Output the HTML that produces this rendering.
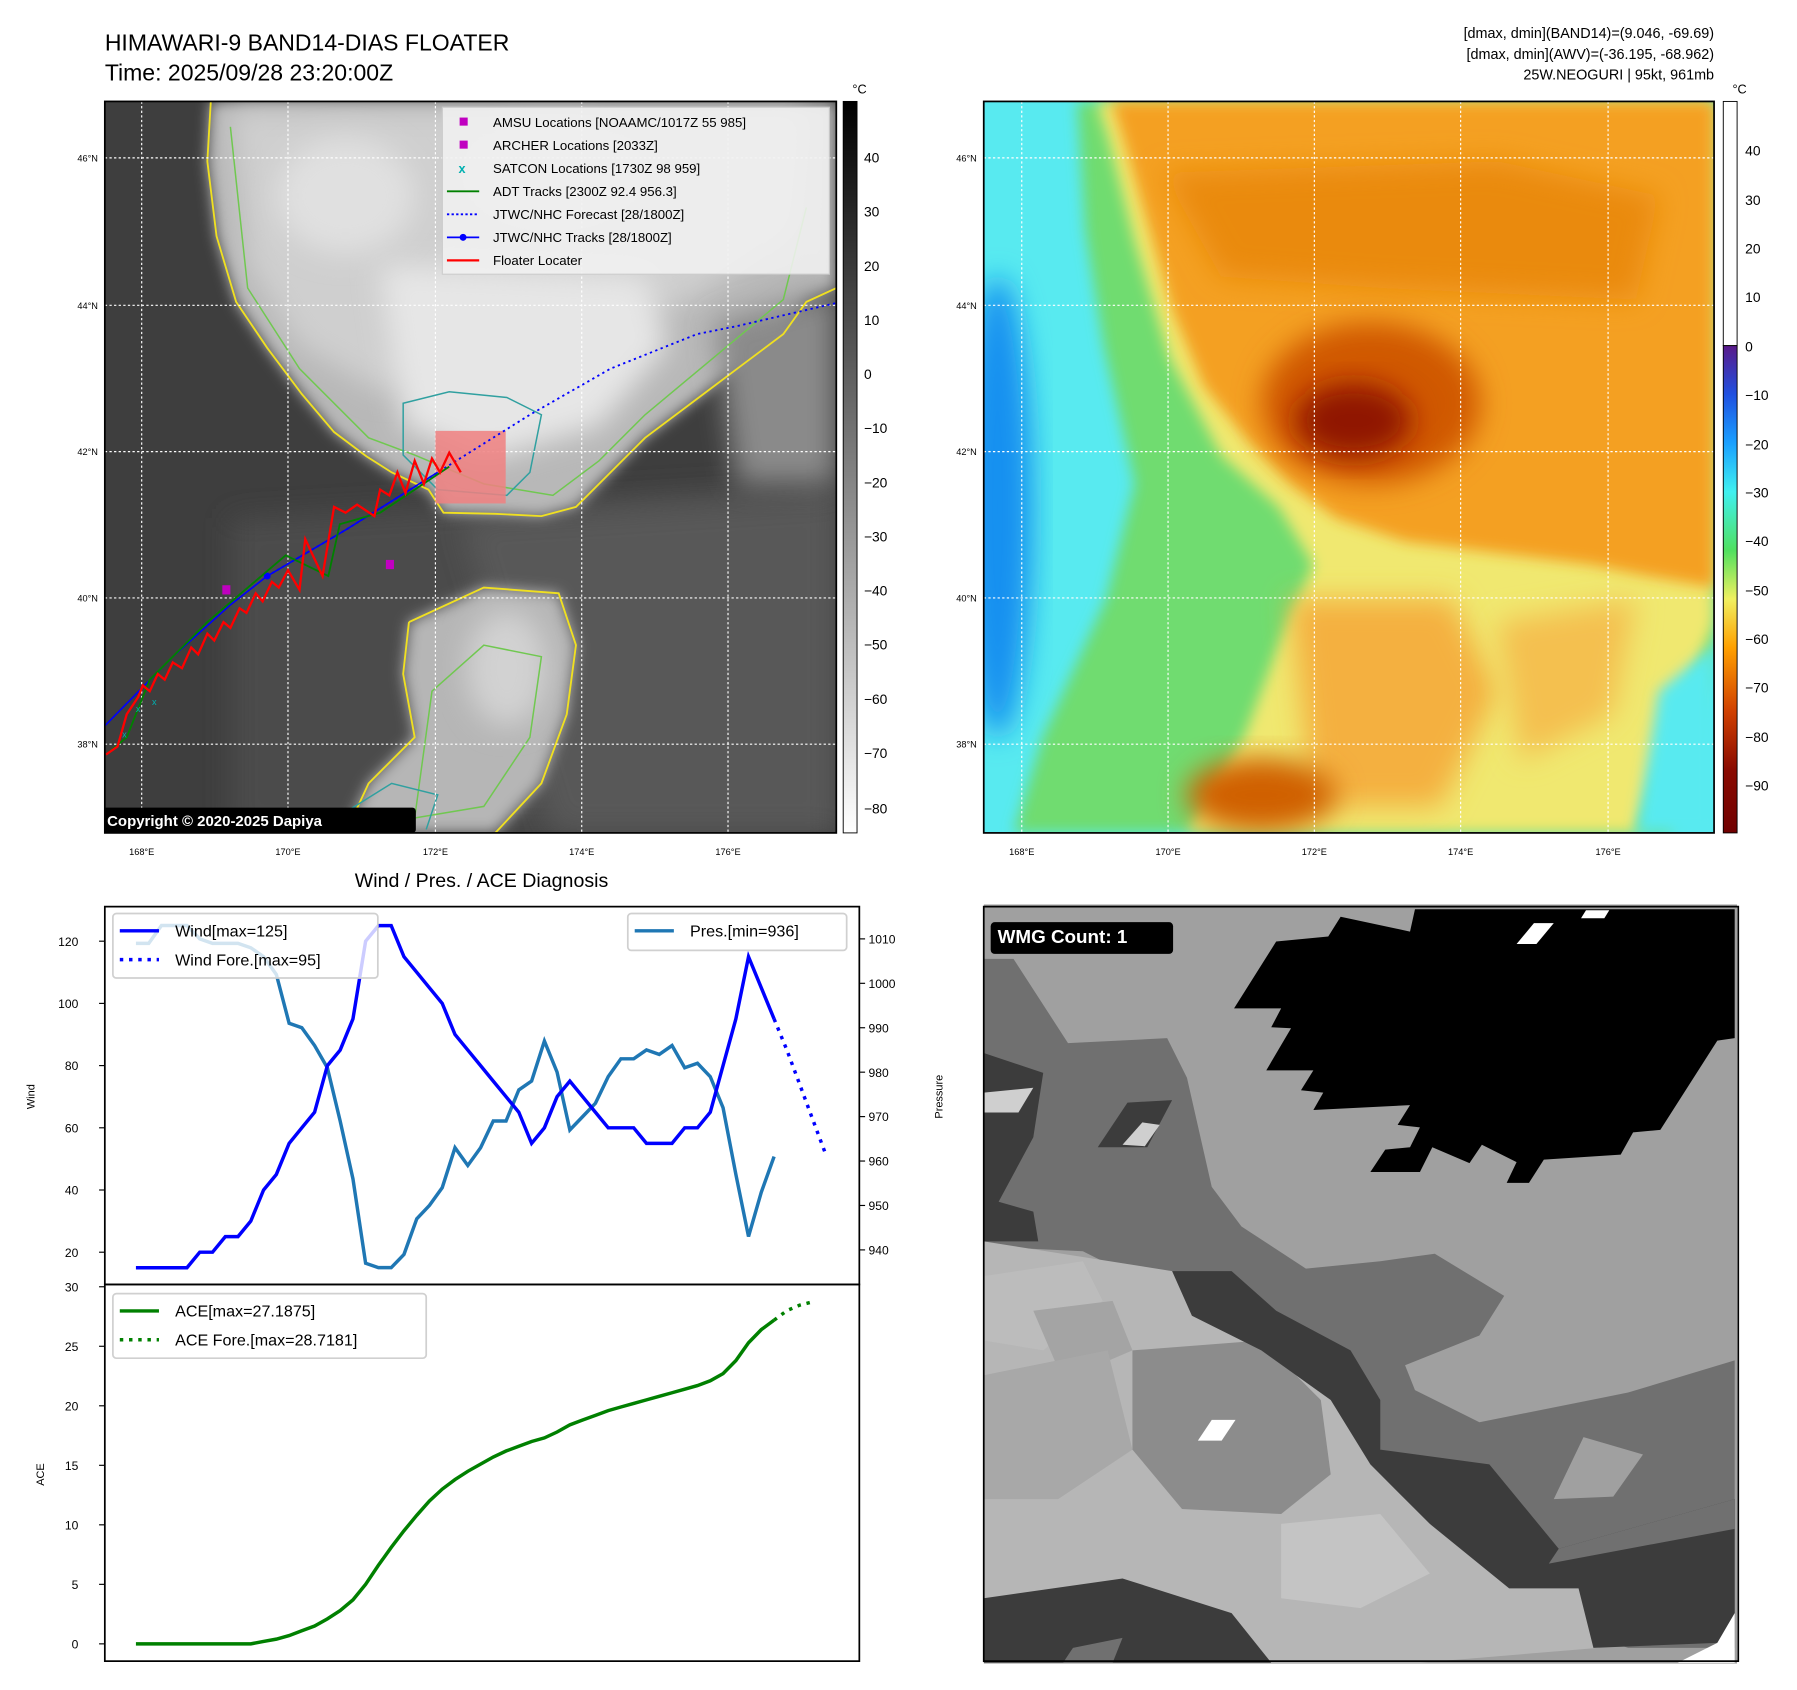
<!DOCTYPE html>
<html><head><meta charset="utf-8"><style>
html,body{margin:0;padding:0;background:#fff;}
svg{display:block;font-family:"Liberation Sans","DejaVu Sans",sans-serif;}
</style></head><body>
<svg id="fig" width="1797" height="1690" viewBox="0 0 1560 1467" xmlns="http://www.w3.org/2000/svg">
<defs>
<clipPath id="clipL"><rect x="91" y="88" width="635" height="635"/></clipPath>
<clipPath id="clipR"><rect x="854" y="88" width="634" height="635"/></clipPath>
<clipPath id="clipW"><rect x="0" y="0" width="1520" height="1532"/></clipPath>
<filter id="b3" x="-20%" y="-20%" width="140%" height="140%"><feGaussianBlur stdDeviation="3"/></filter>
<filter id="b6" x="-20%" y="-20%" width="140%" height="140%"><feGaussianBlur stdDeviation="6"/></filter>
<filter id="b12" x="-30%" y="-30%" width="160%" height="160%"><feGaussianBlur stdDeviation="12"/></filter>
<linearGradient id="gcb" x1="0" y1="0" x2="0" y2="1"><stop offset="0" stop-color="#000"/><stop offset="1" stop-color="#fff"/></linearGradient>
<linearGradient id="ccb" x1="0" y1="0" x2="0" y2="1">
<stop offset="0" stop-color="#5a1a8a"/><stop offset="0.1" stop-color="#2050e0"/><stop offset="0.2" stop-color="#1aa0ff"/><stop offset="0.3" stop-color="#40f0f0"/><stop offset="0.42" stop-color="#50e060"/><stop offset="0.52" stop-color="#f0f060"/><stop offset="0.62" stop-color="#ffa000"/><stop offset="0.75" stop-color="#d04000"/><stop offset="0.87" stop-color="#8a0a00"/><stop offset="1" stop-color="#700000"/></linearGradient>
</defs>

<text x="91" y="44" font-size="20">HIMAWARI-9 BAND14-DIAS FLOATER</text>
<text x="91" y="70" font-size="20">Time: 2025/09/28 23:20:00Z</text>
<text x="1488" y="33" font-size="12.5" text-anchor="end">[dmax, dmin](BAND14)=(9.046, -69.69)</text>
<text x="1488" y="51" font-size="12.5" text-anchor="end">[dmax, dmin](AWV)=(-36.195, -68.962)</text>
<text x="1488" y="69" font-size="12.5" text-anchor="end">25W.NEOGURI | 95kt, 961mb</text>

<!-- LEFT MAP -->
<g clip-path="url(#clipL)">
<rect x="91" y="88" width="635" height="635" fill="#3e3e3e"/>
<path d="M200,450 L726,420 L726,723 L200,723 Z" fill="#4c4c4c" filter="url(#b12)"/>
<path d="M400,450 L726,430 L726,723 L480,723 Z" fill="#585858" filter="url(#b12)"/>
<path id="cloud1" d="M183,88 L726,88 L726,250 L700,262 L680,290 L640,320 L600,350 L560,380 L530,410 L500,440 L470,448 L430,446 L385,445 L372,425 L340,410 L318,396 L290,375 L262,342 L232,302 L205,262 L188,205 L180,140 Z" fill="#b8b8b8" filter="url(#b6)"/>
<path d="M200,95 L700,95 L690,200 L600,260 L500,300 L420,330 L330,340 L260,300 L215,230 Z" fill="#cfcfcf" filter="url(#b12)"/>
<path d="M330,230 L560,240 L580,300 L520,370 L420,400 L350,370 Z" fill="#e6e6e6" filter="url(#b12)"/>
<ellipse cx="300" cy="170" rx="60" ry="50" fill="#e0e0e0" filter="url(#b12)"/>
<ellipse cx="480" cy="150" rx="70" ry="40" fill="#d8d8d8" filter="url(#b12)"/>
<path d="M620,280 L726,250 L726,420 L640,420 Z" fill="#8a8a8a" filter="url(#b12)"/>
<path id="cloud2" d="M355,540 L420,510 L485,515 L500,560 L492,620 L470,680 L430,723 L300,723 L320,680 L360,640 L350,585 Z" fill="#b6b6b6" filter="url(#b6)"/>
<ellipse cx="440" cy="580" rx="35" ry="50" fill="#d2d2d2" filter="url(#b12)"/>
<path d="M183,88 L180,140 L188,205 L205,262 L232,302 L262,342 L290,375 L318,396 L340,410 L372,425 L385,445 L430,446 L470,448 L500,440 L530,410 L560,380 L600,350 L640,320 L680,290 L700,262 L726,250" fill="none" stroke="#f0e020" stroke-width="1.6"/>
<path d="M355,540 L420,510 L485,515 L500,560 L492,620 L470,680 L430,723 M300,723 L320,680 L360,640 L350,585 L355,540" fill="none" stroke="#f0e020" stroke-width="1.6"/>
<path d="M200,110 L215,250 L260,320 L320,380 L360,395 L420,420 L480,430 L520,400 L560,360 L620,310 L680,260 L700,180" fill="none" stroke="#70c850" stroke-width="1.3"/>
<path d="M350,350 L390,340 L440,345 L470,360 L460,410 L440,430 L380,425 L350,395 Z" fill="none" stroke="#30a0a0" stroke-width="1.3"/>
<path d="M375,600 L420,560 L470,570 L460,640 L420,700 L360,710 Z" fill="none" stroke="#70c850" stroke-width="1.3"/>
<path d="M300,705 L340,680 L380,690 L370,720" fill="none" stroke="#30a0a0" stroke-width="1.3"/>
<g stroke="#fff" stroke-width="1" stroke-dasharray="2,2">
<line x1="123" y1="88" x2="123" y2="723"/><line x1="250" y1="88" x2="250" y2="723"/><line x1="378" y1="88" x2="378" y2="723"/><line x1="505" y1="88" x2="505" y2="723"/><line x1="632" y1="88" x2="632" y2="723"/>
<line x1="91" y1="137" x2="726" y2="137"/><line x1="91" y1="265" x2="726" y2="265"/><line x1="91" y1="392" x2="726" y2="392"/><line x1="91" y1="519" x2="726" y2="519"/><line x1="91" y1="646" x2="726" y2="646"/>
</g>
<rect x="378" y="374" width="61" height="63" fill="#f08080" opacity="0.85"/>
<polyline points="232,500 300,460 380,410 460,360 530,320 605,290 640,283 726,263" fill="none" stroke="#0000ff" stroke-width="1.6" stroke-dasharray="2,3"/>
<polyline points="91,630 150,570 200,525 232,500 300,460 380,410" fill="none" stroke="#0000ff" stroke-width="1.4"/>
<circle cx="232" cy="500" r="3" fill="#0000ff"/>
<polyline points="92,655 110,640 130,590 180,540 248,482 285,500 295,455 330,445 390,405" fill="none" stroke="#008000" stroke-width="1.6"/>
<polyline points="92,655 102,648 110,620 120,605 124,595 130,600 137,585 143,590 150,575 158,580 166,562 172,568 180,550 186,556 194,540 200,545 208,528 214,532 222,515 228,522 236,505 242,510 250,495 260,512 265,468 280,500 290,440 300,445 310,438 325,448 330,425 338,430 345,410 352,428 360,400 368,420 375,398 382,410 390,393 400,410" fill="none" stroke="#ff0000" stroke-width="2"/>
<rect x="193" y="508" width="7" height="8" fill="#c000c0"/>
<rect x="335" y="486" width="7" height="8" fill="#c000c0"/>
<text x="118" y="618" font-size="8" fill="#00b0b0">x</text><text x="132" y="612" font-size="8" fill="#00b0b0">x</text><text x="106" y="640" font-size="8" fill="#00b0b0">x</text>
<g>
<rect x="384" y="93" width="336" height="145" fill="#f2f2f2" opacity="0.88" stroke="#ccc"/>
<rect x="399" y="102" width="7" height="7" fill="#c000c0"/><text x="428" y="110" font-size="11.5">AMSU Locations [NOAAMC/1017Z 55 985]</text>
<rect x="399" y="122" width="7" height="7" fill="#c000c0"/><text x="428" y="130" font-size="11.5">ARCHER Locations [2033Z]</text>
<text x="398" y="150" font-size="11" fill="#00b0b0" font-weight="bold">x</text><text x="428" y="150" font-size="11.5">SATCON Locations [1730Z 98 959]</text>
<line x1="388" y1="166" x2="416" y2="166" stroke="#008000" stroke-width="1.6"/><text x="428" y="170" font-size="11.5">ADT Tracks [2300Z 92.4 956.3]</text>
<line x1="388" y1="186" x2="416" y2="186" stroke="#0000ff" stroke-width="1.6" stroke-dasharray="2,2"/><text x="428" y="190" font-size="11.5">JTWC/NHC Forecast [28/1800Z]</text>
<line x1="388" y1="206" x2="416" y2="206" stroke="#0000ff" stroke-width="1.6"/><circle cx="402" cy="206" r="3" fill="#0000ff"/><text x="428" y="210" font-size="11.5">JTWC/NHC Tracks [28/1800Z]</text>
<line x1="388" y1="226" x2="416" y2="226" stroke="#ff0000" stroke-width="2"/><text x="428" y="230" font-size="11.5">Floater Locater</text>
</g>
<rect x="89" y="701" width="272" height="22" rx="3" fill="#000"/>
<text x="93" y="717" font-size="13" font-weight="bold" fill="#fff">Copyright © 2020-2025 Dapiya</text>
</g>
<rect x="91" y="88" width="635" height="635" fill="none" stroke="#000" stroke-width="1.5"/>
<g font-size="8" text-anchor="end">
<text x="85" y="140">46°N</text><text x="85" y="268">44°N</text><text x="85" y="395">42°N</text><text x="85" y="522">40°N</text><text x="85" y="649">38°N</text></g>
<g font-size="8" text-anchor="middle">
<text x="123" y="742">168°E</text><text x="250" y="742">170°E</text><text x="378" y="742">172°E</text><text x="505" y="742">174°E</text><text x="632" y="742">176°E</text></g>
<rect x="732" y="88" width="12" height="635" fill="url(#gcb)" stroke="#000" stroke-width="0.8"/>
<text x="740" y="81" font-size="11">°C</text>
<g font-size="12">
<text x="750" y="141">40</text><text x="750" y="188">30</text><text x="750" y="235">20</text><text x="750" y="282">10</text><text x="750" y="329">0</text><text x="750" y="376">−10</text><text x="750" y="423">−20</text><text x="750" y="470">−30</text><text x="750" y="517">−40</text><text x="750" y="564">−50</text><text x="750" y="611">−60</text><text x="750" y="658">−70</text><text x="750" y="706">−80</text></g>

<!-- RIGHT MAP -->
<g clip-path="url(#clipR)">
<rect x="854" y="88" width="634" height="635" fill="#58eaf0"/>
<ellipse cx="866" cy="440" rx="30" ry="200" fill="#1890f0" filter="url(#b12)"/>
<path d="M935,88 L1488,88 L1488,560 L1450,723 L880,723 L905,640 L960,520 L985,420 L958,300 L942,200 Z" fill="#70dc70" filter="url(#b6)"/>
<path d="M952,88 L1488,88 L1488,540 L1420,723 L1030,723 L1080,640 L1110,560 L1140,490 L1110,440 L1060,395 L1015,310 L985,210 L962,120 Z" fill="#f0e870" filter="url(#b6)"/>
<path d="M965,88 L1488,88 L1488,510 L1430,500 L1380,490 L1300,480 L1220,470 L1160,450 L1120,420 L1085,385 L1045,335 L1018,270 L995,190 L975,120 Z" fill="#f4a020" filter="url(#b6)"/>
<path d="M1010,150 L1300,140 L1440,170 L1420,260 L1200,250 L1060,240 Z" fill="#ea8a10" filter="url(#b12)"/>
<path d="M1120,520 L1260,520 L1300,600 L1250,700 L1140,700 Z" fill="#f4b040" filter="url(#b12)"/>
<path d="M1300,540 L1420,520 L1400,620 L1320,660 Z" fill="#f4c050" filter="url(#b12)"/>
<ellipse cx="1190" cy="350" rx="95" ry="70" fill="#d05800" filter="url(#b12)"/>
<ellipse cx="1175" cy="365" rx="50" ry="32" fill="#901800" filter="url(#b12)"/>
<ellipse cx="1095" cy="690" rx="65" ry="32" fill="#d06000" filter="url(#b12)"/>
<path d="M1440,600 L1488,560 L1488,723 L1420,723 Z" fill="#58eaf0" filter="url(#b6)"/>
<g stroke="#fff" stroke-width="1" stroke-dasharray="2,2">
<line x1="887" y1="88" x2="887" y2="723"/><line x1="1014" y1="88" x2="1014" y2="723"/><line x1="1141" y1="88" x2="1141" y2="723"/><line x1="1268" y1="88" x2="1268" y2="723"/><line x1="1396" y1="88" x2="1396" y2="723"/>
<line x1="854" y1="137" x2="1488" y2="137"/><line x1="854" y1="265" x2="1488" y2="265"/><line x1="854" y1="392" x2="1488" y2="392"/><line x1="854" y1="519" x2="1488" y2="519"/><line x1="854" y1="646" x2="1488" y2="646"/>
</g></g>
<rect x="854" y="88" width="634" height="635" fill="none" stroke="#000" stroke-width="1.5"/>
<g font-size="8" text-anchor="end">
<text x="848" y="140">46°N</text><text x="848" y="268">44°N</text><text x="848" y="395">42°N</text><text x="848" y="522">40°N</text><text x="848" y="649">38°N</text></g>
<g font-size="8" text-anchor="middle">
<text x="887" y="742">168°E</text><text x="1014" y="742">170°E</text><text x="1141" y="742">172°E</text><text x="1268" y="742">174°E</text><text x="1396" y="742">176°E</text></g>
<rect x="1496" y="88" width="12" height="212" fill="#fff" stroke="#000" stroke-width="0.8"/>
<rect x="1496" y="300" width="12" height="423" fill="url(#ccb)" stroke="#000" stroke-width="0.8"/>
<text x="1504" y="81" font-size="11">°C</text>
<g font-size="12">
<text x="1515" y="135">40</text><text x="1515" y="178">30</text><text x="1515" y="220">20</text><text x="1515" y="262">10</text><text x="1515" y="305">0</text><text x="1515" y="347">−10</text><text x="1515" y="390">−20</text><text x="1515" y="432">−30</text><text x="1515" y="474">−40</text><text x="1515" y="517">−50</text><text x="1515" y="559">−60</text><text x="1515" y="601">−70</text><text x="1515" y="644">−80</text><text x="1515" y="686">−90</text></g>

<!-- BOTTOM RIGHT WMG -->
<g transform="translate(854,785) scale(0.4303)">
<g clip-path="url(#clipW)">
<rect x="0" y="0" width="1520" height="1532" fill="#a0a0a0"/>
<path d="M0,110 L60,110 L170,280 L370,270 L410,350 L460,570 L520,650 L650,735 L800,720 L910,705 L1050,790 L1000,870 L850,930 L870,980 L1000,1045 L1300,985 L1515,920 L1515,1500 L1300,1500 L1000,1400 L800,1200 L600,1000 L400,800 L200,700 L0,690 Z" fill="#707070"/>
<path d="M0,680 L380,740 L560,860 L740,950 L800,1100 L900,1200 L1000,1300 L1330,1410 L1300,1460 L1240,1500 L880,1530 L0,1530 Z" fill="#b6b6b6"/>
<path d="M0,750 L200,720 L240,800 L120,900 L0,880 Z" fill="#bcbcbc"/>
<path d="M300,900 L560,880 L680,1000 L700,1150 L600,1230 L400,1220 L300,1100 Z" fill="#8c8c8c"/>
<path d="M100,820 L260,800 L300,900 L160,960 Z" fill="#a4a4a4"/>
<path d="M0,950 L250,900 L300,1100 L150,1200 L0,1200 Z" fill="#a8a8a8"/>
<path d="M600,1250 L800,1230 L900,1350 L760,1420 L600,1400 Z" fill="#c4c4c4"/>
<path d="M380,740 L500,740 L590,820 L740,900 L800,1000 L800,1100 L1020,1130 L1160,1300 L1515,1200 L1515,1430 L1480,1490 L1230,1500 L1200,1380 L1060,1380 L900,1250 L780,1130 L700,1000 L560,900 L420,830 Z" fill="#3c3c3c"/>
<path d="M1140,1330 L1515,1260 L1515,1200 L1160,1300 Z" fill="#707070"/>
<path d="M1150,1200 L1210,1075 L1330,1110 L1270,1195 Z" fill="#a0a0a0"/>
<path d="M0,1400 L280,1360 L500,1430 L580,1530 L0,1530 Z" fill="#3c3c3c"/>
<path d="M180,1500 L280,1480 L260,1530 L160,1530 Z" fill="#707070"/>
<path d="M0,300 L120,340 L100,470 L30,600 L100,620 L110,680 L0,680 Z" fill="#3c3c3c"/>
<path d="M230,490 L290,400 L380,395 L330,490 Z" fill="#3c3c3c"/>
<path d="M280,485 L320,440 L355,445 L325,488 Z" fill="#cfcfcf"/>
<path d="M0,380 L100,370 L70,420 L0,420 Z" fill="#cfcfcf"/>
<path d="M870,10 L1515,10 L1515,270 L1480,275 L1365,455 L1310,460 L1285,505 L1130,515 L1100,562 L1055,562 L1075,520 L1005,485 L980,522 L905,490 L880,540 L780,540 L810,495 L860,490 L880,450 L835,445 L860,405 L665,415 L685,380 L640,375 L665,335 L570,335 L620,250 L580,248 L600,210 L505,210 L590,75 L695,65 L720,25 L860,55 Z" fill="#000"/>
<path d="M1075,80 L1110,38 L1150,38 L1115,80 Z" fill="#fff"/>
<path d="M1205,28 L1215,12 L1262,12 L1252,28 Z" fill="#fff"/>
<path d="M432,1082 L460,1040 L508,1040 L480,1082 Z" fill="#fff"/>
<path d="M1515,1430 L1515,1530 L1400,1530 L1480,1490 Z" fill="#fff"/>
</g>
<rect x="14" y="36" width="368" height="64" rx="8" fill="#000"/>
<text x="28" y="78" font-size="38" font-weight="bold" fill="#fff">WMG Count: 1</text>
</g>
<rect x="854" y="787" width="655" height="655" fill="none" stroke="#000" stroke-width="1.5"/>

<text x="418" y="770" font-size="17" text-anchor="middle">Wind / Pres. / ACE Diagnosis</text>
<g id="chart"></g>
</svg>
<script>
const windObs = [15,15,15,15,15,20,20,25,25,30,40,45,55,60,65,80,85,95,120,125,125,115,110,105,100,90,85,80,75,70,65,55,60,70,75,70,65,60,60,60,55,55,55,60,60,65,80,95,115,105,95];
const windFore = [95,85,74,63,52];
const presObs = [1009,1009,1013,1013,1013,1010,1009,1009,1009,1008,1006,1002,991,990,986,981,969,956,937,936,936,939,947,950,954,963,959,963,969,969,976,978,987,980,967,970,973,979,983,983,985,984,986,981,982,979,972,957,943,953,961];
const aceObs = [0,0,0,0,0,0,0,0,0,0,0.2,0.4,0.7,1.1,1.5,2.1,2.8,3.7,5.0,6.6,8.1,9.5,10.8,12.0,13.0,13.8,14.5,15.1,15.7,16.2,16.6,17.0,17.3,17.8,18.4,18.8,19.2,19.6,19.9,20.2,20.5,20.8,21.1,21.4,21.7,22.1,22.7,23.8,25.3,26.4,27.19];
const aceFore = [27.19,28.0,28.45,28.72];
const windTicks = [20,40,60,80,100,120];
const presTicks = [940,950,960,970,980,990,1000,1010];
const aceTicks = [0,5,10,15,20,25,30];

const NS='http://www.w3.org/2000/svg';
const g=document.getElementById('chart');
function mk(tag,attrs,parent){const e=document.createElementNS(NS,tag);for(const k in attrs)e.setAttribute(k,attrs[k]);(parent||g).appendChild(e);return e;}
const X=i=>118+i*(672-118)/50;
const Yw=v=>817+(120-v)*(1087-817)/100;
const Yp=v=>815+(1010-v)*(1085-815)/70;
const Ya=v=>1427-v*(1427-1117)/30;
function pts(arr,off,fy){return arr.map((v,i)=>X(i+off).toFixed(1)+','+fy(v).toFixed(1)).join(' ');}

let l;
l=mk('polyline',{points:pts(presObs,0,Yp),fill:'none',stroke:'#1f77b4','stroke-width':3});


l=mk('polyline',{points:pts(windObs,0,Yw),fill:'none',stroke:'#0000ff','stroke-width':3});


l=mk('polyline',{points:pts(windFore,50,Yw),fill:'none',stroke:'#0000ff','stroke-width':3,'stroke-dasharray':'3,5'});


l=mk('polyline',{points:pts(aceObs,0,Ya),fill:'none',stroke:'#008000','stroke-width':3});


l=mk('polyline',{points:pts(aceFore,50,Ya),fill:'none',stroke:'#008000','stroke-width':3,'stroke-dasharray':'3,5'});



mk('rect',{x:91,y:787,width:655,height:328,fill:'none',stroke:'#000','stroke-width':1.5});
mk('rect',{x:91,y:1115,width:655,height:327,fill:'none',stroke:'#000','stroke-width':1.5});
windTicks.forEach(v=>{mk('line',{x1:86,x2:91,y1:Yw(v),y2:Yw(v),stroke:'#000'});const t=mk('text',{x:68,y:Yw(v)+4,'font-size':10.5,'text-anchor':'end'});t.textContent=v;

});
presTicks.forEach(v=>{mk('line',{x1:746,x2:751,y1:Yp(v),y2:Yp(v),stroke:'#000'});const t=mk('text',{x:754,y:Yp(v)+4,'font-size':10.5});t.textContent=v;

});
aceTicks.forEach(v=>{mk('line',{x1:86,x2:91,y1:Ya(v),y2:Ya(v),stroke:'#000'});const t=mk('text',{x:68,y:Ya(v)+4,'font-size':10.5,'text-anchor':'end'});t.textContent=v;

});
let t;
t=mk('text',{x:0,y:0,'font-size':9.5,'text-anchor':'middle',transform:'translate(30,952) rotate(-90)'});t.textContent='Wind';
t=mk('text',{x:0,y:0,'font-size':9.5,'text-anchor':'middle',transform:'translate(818,952) rotate(-90)'});t.textContent='Pressure';
t=mk('text',{x:0,y:0,'font-size':9.5,'text-anchor':'middle',transform:'translate(38,1280) rotate(-90)'});t.textContent='ACE';

function legend(x,y,w,h,items,name){const lg=mk('g',{});


mk('rect',{x:x,y:y,width:w,height:h,rx:3,fill:'#fff','fill-opacity':0.8,stroke:'#d0d0d0','stroke-width':1.5},lg);
items.forEach((it,i)=>{const yy=y+15+i*25;const a={x1:x+6,x2:x+40,y1:yy,y2:yy,stroke:it[1],'stroke-width':3};if(it[2])a['stroke-dasharray']='3,5';mk('line',a,lg);const tx=mk('text',{x:x+54,y:yy+5,'font-size':14},lg);tx.textContent=it[0];});}
legend(98,793,230,56,[['Wind[max=125]','#0000ff',0],['Wind Fore.[max=95]','#0000ff',1]],'wind-legend');
legend(545,793,190,32,[['Pres.[min=936]','#1f77b4',0]],'pressure-legend');
legend(98,1123,272,56,[['ACE[max=27.1875]','#008000',0],['ACE Fore.[max=28.7181]','#008000',1]],'ace-legend');
</script>
</body></html>
